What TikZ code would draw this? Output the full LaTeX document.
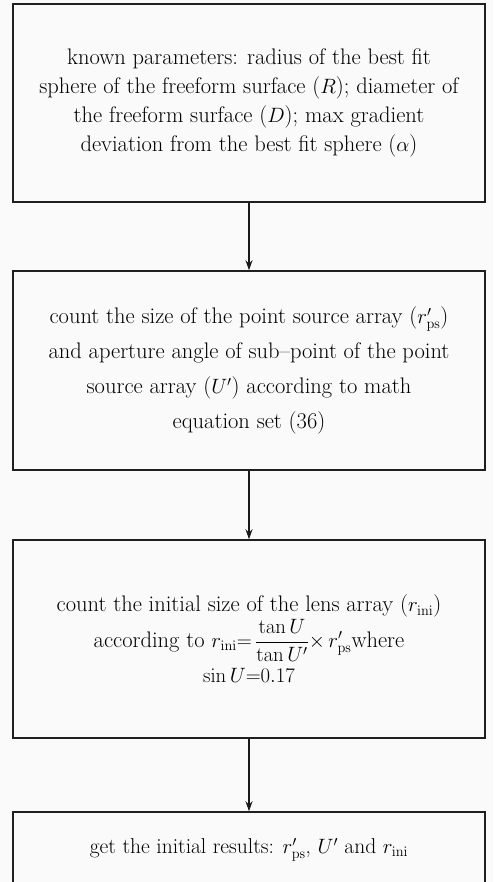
\documentclass[tikz,border=0pt]{standalone}
\usepackage{amsmath}
\usetikzlibrary{arrows.meta}
\begin{document}
\begin{tikzpicture}[x=1pt,y=-1pt,
  box/.style={draw=black!88, line width=1.5pt, minimum width=472pt, align=center, inner sep=0pt},
  conn/.style={draw=black!90, line width=1.2pt, -{Stealth[length=10pt,width=7pt]}}]
\useasboundingbox (0,0) rectangle (493,882);
\fill[white!98!black] (0,0) rectangle (493,882);
\clip (0,0) rectangle (493,882);
\node[box, minimum height=198pt, font=\fontsize{22.5}{29}\selectfont] (b1) at (249,103)
 {known parameters: radius of the best fit\\
  sphere of the freeform surface ($R$); diameter of\\
  the freeform surface ($D$); max gradient\\
  deviation from the best fit sphere ($\alpha$)};
\node[box, minimum height=199pt, font=\fontsize{22.5}{35}\selectfont] (b2) at (249,370.5)
 {count the size of the point source array ($r'_{\mathrm{ps}}$)\\
  and aperture angle of sub--point of the point\\
  source array ($U'$) according to math\\
  equation set (36)};
\node[box, minimum height=198pt, font=\fontsize{22.5}{35.5}\selectfont] (b3) at (249,639)
 {count the initial size of the lens array ($r_{\mathrm{ini}}$)\\
  according to $r_{\mathrm{ini}}{=}\,\dfrac{\tan U}{\tan U'}{\times}\, r'_{\mathrm{ps}}$where\\
  $\sin U{=}0.17$};
\node[box, minimum height=76pt, font=\fontsize{21.5}{29}\selectfont] (b4) at (249,850)
 {get the initial results: $r'_{\mathrm{ps}}$, $U'$ and $r_{\mathrm{ini}}$};
\draw[conn] (b1.south) -- (b2.north);
\draw[conn] (b2.south) -- (b3.north);
\draw[conn] (b3.south) -- (b4.north);
\end{tikzpicture}
\end{document}
